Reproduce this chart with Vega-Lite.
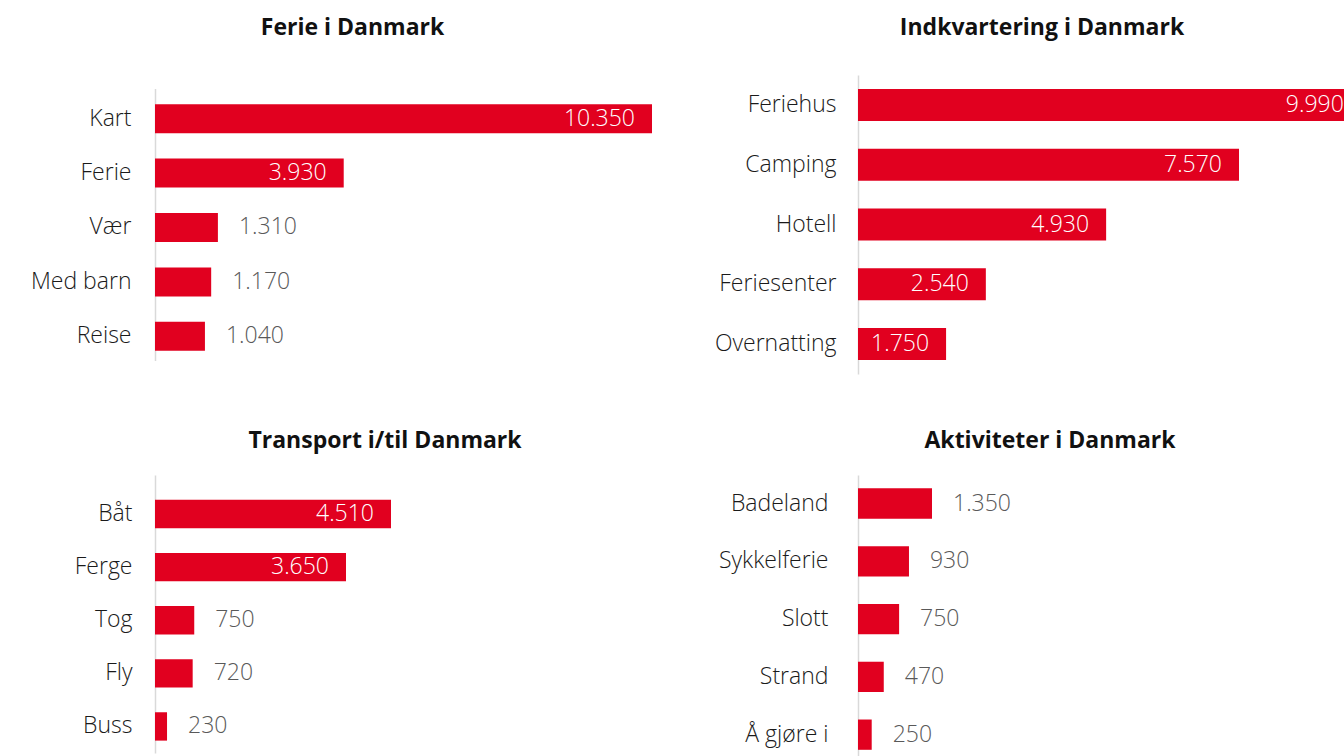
{
  "$schema": "https://vega.github.io/schema/vega-lite/v6.json",
  "padding": {"left": 30, "top": 16, "right": 0, "bottom": 0},
  "background": "white",
  "config": {
    "view": {"stroke": null},
    "locale": {"number": {"decimal": ",", "thousands": ".", "grouping": [3], "currency": ["", " kr."]}},
    "font": "Open Sans",
    "title": {"fontSize": 23, "fontWeight": "bold", "color": "#111111", "font": "Open Sans", "anchor": "middle", "frame": "group"},
    "axisY": {"domainColor": "#d9d9d9", "domainWidth": 1.5, "ticks": false, "labelFontSize": 23, "labelColor": "#1a1a1a", "labelFont": "Open Sans", "labelFontWeight": 300, "grid": false, "labelLimit": 300, "title": null},
    "text": {"font": "Open Sans", "fontSize": 23, "fontWeight": 300, "baseline": "middle"}
  },
  "datasets": {
    "ferie": [
      {"kategori": "Kart", "antall": 10350},
      {"kategori": "Ferie", "antall": 3930},
      {"kategori": "Vær", "antall": 1310},
      {"kategori": "Med barn", "antall": 1170},
      {"kategori": "Reise", "antall": 1040}
    ],
    "indkvartering": [
      {"kategori": "Feriehus", "antall": 9990},
      {"kategori": "Camping", "antall": 7570},
      {"kategori": "Hotell", "antall": 4930},
      {"kategori": "Feriesenter", "antall": 2540},
      {"kategori": "Overnatting", "antall": 1750}
    ],
    "transport": [
      {"kategori": "Båt", "antall": 4510},
      {"kategori": "Ferge", "antall": 3650},
      {"kategori": "Tog", "antall": 750},
      {"kategori": "Fly", "antall": 720},
      {"kategori": "Buss", "antall": 230}
    ],
    "aktiviteter": [
      {"kategori": "Badeland", "antall": 1350},
      {"kategori": "Sykkelferie", "antall": 930},
      {"kategori": "Slott", "antall": 750},
      {"kategori": "Strand", "antall": 470},
      {"kategori": "Å gjøre i", "antall": 250}
    ]
  },
  "columns": 2,
  "spacing": {"row": 101, "column": 206},
  "bounds": "flush",
  "align": "all",
  "center": {"row": true, "column": false},
  "concat": [
    {
      "title": {"text": "Ferie i Danmark", "offset": 49, "dx": -51},
      "width": 497,
      "height": 272,
      "data": {"name": "ferie"},
      "encoding": {
        "y": {"field": "kategori", "type": "nominal", "sort": null, "scale": {"paddingInner": 0.467, "paddingOuter": 0.2335, "align": 0.618}, "axis": {"labelPadding": 24}},
        "x": {"field": "antall", "type": "quantitative", "scale": {"domain": [0, 10350], "nice": false}, "axis": null}
      },
      "layer": [
        {"mark": {"type": "bar", "color": "#E1001F", "clip": true}},
        {"transform": [{"filter": "datum.antall >= 1500"}], "mark": {"type": "text", "align": "right", "dx": -17, "color": "#ffffff"}, "encoding": {"text": {"field": "antall", "type": "quantitative", "format": ",d"}}},
        {"transform": [{"filter": "datum.antall < 1500"}], "mark": {"type": "text", "align": "left", "dx": 21, "color": "#595959"}, "encoding": {"text": {"field": "antall", "type": "quantitative", "format": ",d"}}}
      ]
    },
    {
      "title": {"text": "Indkvartering i Danmark", "offset": 35, "dx": -59},
      "width": 486,
      "height": 299,
      "data": {"name": "indkvartering"},
      "encoding": {
        "y": {"field": "kategori", "type": "nominal", "sort": null, "scale": {"paddingInner": 0.465, "paddingOuter": 0.2325, "align": 0.5}, "axis": {"labelPadding": 22}},
        "x": {"field": "antall", "type": "quantitative", "scale": {"domain": [0, 9656], "nice": false}, "axis": null}
      },
      "layer": [
        {"mark": {"type": "bar", "color": "#E1001F", "clip": true}},
        {"transform": [{"filter": "datum.antall >= 1500"}], "mark": {"type": "text", "align": "right", "dx": -17, "color": "#ffffff"}, "encoding": {"text": {"field": "antall", "type": "quantitative", "format": ",d"}}},
        {"transform": [{"filter": "datum.antall < 1500"}], "mark": {"type": "text", "align": "left", "dx": 21, "color": "#595959"}, "encoding": {"text": {"field": "antall", "type": "quantitative", "format": ",d"}}}
      ]
    },
    {
      "title": {"text": "Transport i/til Danmark", "offset": 22, "dx": 112},
      "width": 236,
      "height": 278,
      "data": {"name": "transport"},
      "encoding": {
        "y": {"field": "kategori", "type": "nominal", "sort": null, "scale": {"paddingInner": 0.466, "paddingOuter": 0.35, "align": 0.667}, "axis": {"labelPadding": 23}},
        "x": {"field": "antall", "type": "quantitative", "scale": {"domain": [0, 4510], "nice": false}, "axis": null}
      },
      "layer": [
        {"mark": {"type": "bar", "color": "#E1001F", "clip": true}},
        {"transform": [{"filter": "datum.antall >= 1500"}], "mark": {"type": "text", "align": "right", "dx": -17, "color": "#ffffff"}, "encoding": {"text": {"field": "antall", "type": "quantitative", "format": ",d"}}},
        {"transform": [{"filter": "datum.antall < 1500"}], "mark": {"type": "text", "align": "left", "dx": 21, "color": "#595959"}, "encoding": {"text": {"field": "antall", "type": "quantitative", "format": ",d"}}}
      ]
    },
    {
      "title": {"text": "Aktiviteter i Danmark", "offset": 22, "dx": 155},
      "width": 74,
      "height": 282,
      "data": {"name": "aktiviteter"},
      "encoding": {
        "y": {"field": "kategori", "type": "nominal", "sort": null, "scale": {"paddingInner": 0.476, "paddingOuter": 0.178, "align": 0.65}, "axis": {"labelPadding": 30}},
        "x": {"field": "antall", "type": "quantitative", "scale": {"domain": [0, 1350], "nice": false}, "axis": null}
      },
      "layer": [
        {"mark": {"type": "bar", "color": "#E1001F", "clip": true}},
        {"transform": [{"filter": "datum.antall >= 1500"}], "mark": {"type": "text", "align": "right", "dx": -17, "color": "#ffffff"}, "encoding": {"text": {"field": "antall", "type": "quantitative", "format": ",d"}}},
        {"transform": [{"filter": "datum.antall < 1500"}], "mark": {"type": "text", "align": "left", "dx": 21, "color": "#595959"}, "encoding": {"text": {"field": "antall", "type": "quantitative", "format": ",d"}}}
      ]
    }
  ]
}
